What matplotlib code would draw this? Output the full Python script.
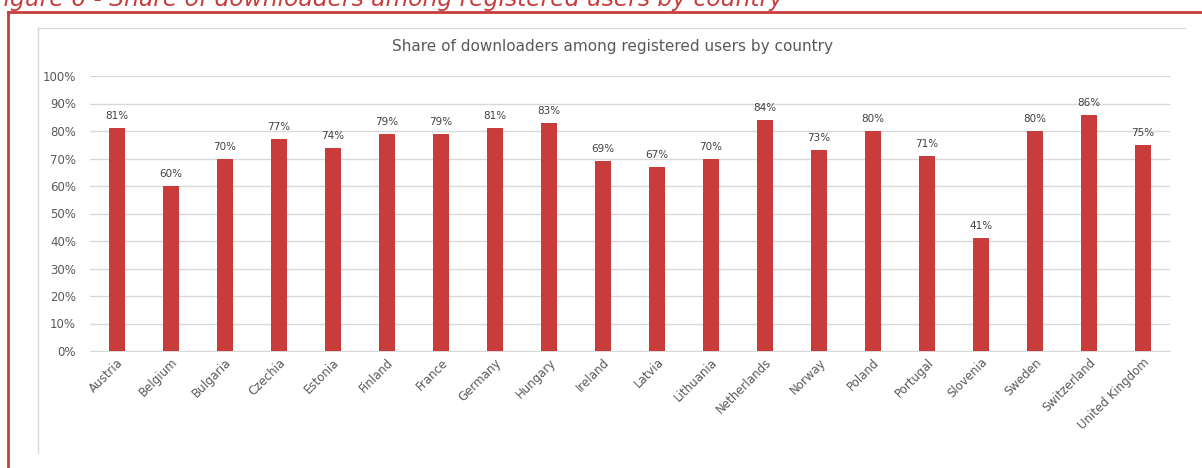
import matplotlib.pyplot as plt
from matplotlib.lines import Line2D
from matplotlib.ticker import PercentFormatter

# Share of downloaders per country (%)
countries = ["Austria", "Belgium", "Bulgaria", "Czechia", "Estonia", "Finland",
             "France", "Germany", "Hungary", "Ireland", "Latvia", "Lithuania",
             "Netherlands", "Norway", "Poland", "Portugal", "Slovenia",
             "Sweden", "Switzerland", "United Kingdom"]
shares = [81, 60, 70, 77, 74, 79, 79, 81, 83, 69, 67, 70, 84, 73, 80, 71, 41,
          80, 86, 75]

red = "#c83c3c"
grey_txt = "#595959"

plt.rcParams['font.family'] = ['DejaVu Sans']

fig = plt.figure(figsize=(12.02, 4.68), dpi=100)
W, H = 1202, 468

# outer report frame (top + left edge) and caption
fig.add_artist(Line2D([7.5 / W, 7.5 / W], [0, 1 - 12 / H], color=red, lw=2,
                      transform=fig.transFigure))
fig.add_artist(Line2D([7.5 / W, 1], [1 - 12 / H, 1 - 12 / H], color=red, lw=2,
                      transform=fig.transFigure))
fig.text(-10 / W, 1 - 6 / H, "Figure 6 - Share of downloaders among registered users by country",
         color=red, style="italic", fontsize=16.8, va="baseline", ha="left")

# chart area frame
fig.add_artist(Line2D([37.5 / W, 37.5 / W], [1 - 453 / H, 1 - 27.5 / H], color="#d9d9d9", lw=1,
                      transform=fig.transFigure))
fig.add_artist(Line2D([37.5 / W, 1185 / W], [1 - 27.5 / H, 1 - 27.5 / H], color="#d9d9d9", lw=1,
                      transform=fig.transFigure))

ax = fig.add_axes([90 / W, 1 - 351 / H, 1080 / W, 275 / H])
x = range(len(countries))
bars = ax.bar(x, shares, width=0.31, color=red, zorder=3)
ax.bar_label(bars, labels=[f"{v}%" for v in shares], padding=5, fontsize=7.5,
             color="#404040")

ax.set_xlim(-0.5, len(countries) - 0.5)
ax.set_ylim(0, 100)
ax.set_yticks(range(0, 101, 10))
ax.yaxis.set_major_formatter(PercentFormatter(decimals=0))
ax.grid(axis="y", color="#d9d9d9", lw=1, zorder=0)
for s in ["top", "right", "left"]:
    ax.spines[s].set_visible(False)
ax.spines["bottom"].set_color("#d9d9d9")
ax.tick_params(length=0, colors=grey_txt, labelsize=8.5)
ax.tick_params(axis="y", pad=10)
ax.set_xticks(list(x))
ax.set_xticklabels(countries, rotation=45, ha="right", rotation_mode="anchor")

fig.text(612 / W, 1 - 47 / H, "Share of downloaders among registered users by country",
         ha="center", va="center", fontsize=11, color=grey_txt)

fig.savefig("out.png", dpi=100)
